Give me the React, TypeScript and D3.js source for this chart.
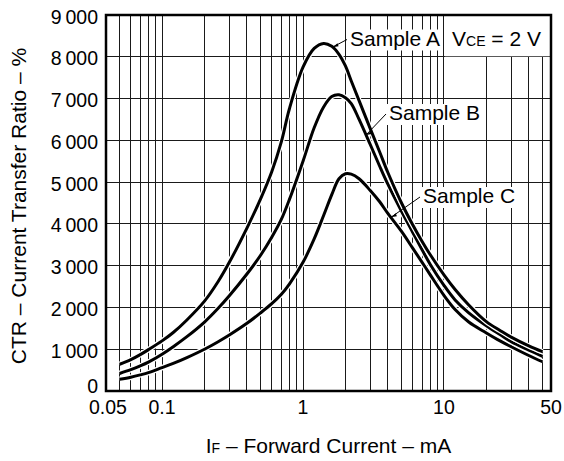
import React from 'react'
import * as d3 from 'd3'

// forward current, mA
const CURRENT = [
  0.05, 0.06, 0.07, 0.08, 0.1, 0.12, 0.15, 0.2, 0.25, 0.3, 0.4, 0.5, 0.6, 0.7, 0.8, 1, 1.2, 1.4, 1.6, 1.8,
  2, 2.2, 2.5, 3, 3.5, 4, 5, 6, 7, 8, 10, 12, 15, 20, 25, 30, 40, 50,
]
// CTR, %
const CTR_A = [
  640, 750, 870, 990, 1200, 1400, 1700, 2150, 2620, 3080, 3900, 4600, 5250, 5950, 6750, 7750, 8200, 8320, 8250, 8060,
  7780, 7420, 6950, 6280, 5720, 5230, 4500, 3980, 3580, 3260, 2780, 2430, 2060, 1660, 1450, 1290, 1080, 940,
]
const CTR_B = [
  420, 510, 600, 690, 880, 1060, 1300, 1650, 1980, 2280, 2800, 3250, 3680, 4100, 4580, 5500, 6300, 6800, 7050, 7090,
  7020, 6880, 6500, 5900, 5380, 4950, 4300, 3800, 3380, 3030, 2530, 2180, 1870, 1560, 1350, 1180, 980, 830,
]
const CTR_C = [
  280, 330, 385, 440, 560, 660, 800, 1000, 1180, 1340, 1620, 1870, 2090, 2310, 2560, 3080, 3640, 4200, 4700, 5080,
  5200, 5190, 5080, 4800, 4530, 4250, 3820, 3420, 3080, 2780, 2290, 1950, 1650, 1390, 1200, 1060, 850, 700,
]

const X_TICKS = [0.05, 0.1, 1, 10, 50]
const Y_TICKS = [0, 1000, 2000, 3000, 4000, 5000, 6000, 7000, 8000, 9000]

// label, leader target current, text position
const SERIES = [
  { name: 'Sample C', values: CTR_C, leaderAt: 4.2, tx: 423, ty: 203 },
  { name: 'Sample B', values: CTR_B, leaderAt: 2.8, tx: 389, ty: 120 },
  { name: 'Sample A', values: CTR_A, leaderAt: 1.62, tx: 350, ty: 45.5 },
]

const W = 564
const H = 461
const FONT = '"Liberation Sans", Arial, Helvetica, sans-serif'

const fmtY = (v: number) => (v >= 1000 ? `${Math.floor(v / 1000)}\u2009${String(v % 1000).padStart(3, '0')}` : String(v))

export default function App() {
  const x0 = 106, x1 = 551, y0 = 15, y1 = 391
  const x = d3.scaleLog().domain([0.04, 57.5]).range([x0, x1])
  const y = d3.scaleLinear().domain([0, 9000]).range([y1, y0])

  const vGrid: number[] = []
  for (const dec of [0.01, 0.1, 1, 10]) {
    for (let k = 1; k <= 9; k++) {
      const v = +(dec * k).toPrecision(3)
      if (v >= 0.05 && v <= 50) vGrid.push(v)
    }
  }
  const hGrid = Y_TICKS.filter((v) => v > 0 && v < 9000)

  const line = d3
    .line<number>()
    .x((_, i) => x(CURRENT[i]))
    .y((d) => y(d))
    .curve(d3.curveCatmullRom.alpha(0.5))

  return (
    <svg width={W} height={H} style={{ position: 'absolute', left: 0, top: 0, background: '#fff' }} fontFamily={FONT}>
      <rect x={0} y={0} width={W} height={H} fill="#fff" />

      {/* grid */}
      <g stroke="#1a1a1a" strokeWidth={1} shapeRendering="crispEdges">
        {vGrid.map((v) => (
          <line key={'v' + v} x1={x(v)} x2={x(v)} y1={y0} y2={y1} />
        ))}
        {hGrid.map((v) => (
          <line key={'h' + v} x1={x0} x2={x1} y1={y(v)} y2={y(v)} />
        ))}
      </g>

      {/* V_CE box covers the grid above 8000 right of 10 mA */}
      <rect x={x(10) + 1} y={y0} width={x1 - x(10) - 1} height={y(8000) - y0 - 0.5} fill="#fff" />

      {/* curves with a thin white casing */}
      {SERIES.map((s) => (
        <g key={s.name}>
          <path d={line(s.values) || ''} fill="none" stroke="#fff" strokeWidth={5.5} strokeLinejoin="round" />
          <path d={line(s.values) || ''} fill="none" stroke="#000" strokeWidth={3} strokeLinejoin="round" />
        </g>
      ))}

      {/* labels + leaders */}
      {SERIES.map((s) => {
        const interp = d3.scaleLog().domain(CURRENT).range(s.values)
        const px = x(s.leaderAt)
        const py = y(interp(s.leaderAt))
        const lx = s.tx - 3
        const ly = s.ty - 6
        return (
          <g key={'lab' + s.name}>
            <rect x={s.tx - 2} y={s.ty - 16} width={93} height={21} fill="#fff" />
            <line x1={lx} y1={ly} x2={px} y2={py} stroke="#000" strokeWidth={1} />
            <path d={`M${px},${py} l5,-4 l1,3 z`} fill="#000" />
            <text x={s.tx} y={s.ty} fontSize={21} fill="#000">
              {s.name}
            </text>
          </g>
        )
      })}

      <text x={452} y={45.5} fontSize={21} fill="#000">
        V<tspan fontSize={14}>CE</tspan> = 2 V
      </text>

      {/* frame */}
      <rect x={x0} y={y0} width={x1 - x0} height={y1 - y0} fill="none" stroke="#000" strokeWidth={2.5} />

      {/* y ticks */}
      {Y_TICKS.map((v) => (
        <text
          key={'yt' + v}
          x={98}
          y={v === 0 ? y(v) - 5.5 : y(v) + 1.5}
          textAnchor="end"
          dominantBaseline="central"
          fontSize={19.5}
          fill="#000"
        >
          {fmtY(v)}
        </text>
      ))}

      {/* x ticks: end labels sit at the frame edges */}
      {X_TICKS.map((v, i) => (
        <text
          key={'xt' + v}
          x={i === 0 ? x0 + 2 : i === X_TICKS.length - 1 ? x1 : x(v)}
          y={413.5}
          textAnchor="middle"
          fontSize={19.5}
          fill="#000"
        >
          {v}
        </text>
      ))}

      <text x={(x0 + x1) / 2} y={453} textAnchor="middle" fontSize={21} fill="#000">
        I<tspan fontSize={14}>F</tspan> – Forward Current – mA
      </text>
      <text
        transform={`translate(18,${(y0 + y1) / 2 + 3}) rotate(-90)`}
        textAnchor="middle"
        dominantBaseline="central"
        fontSize={21}
        fill="#000"
      >
        CTR – Current Transfer Ratio – %
      </text>
    </svg>
  )
}
